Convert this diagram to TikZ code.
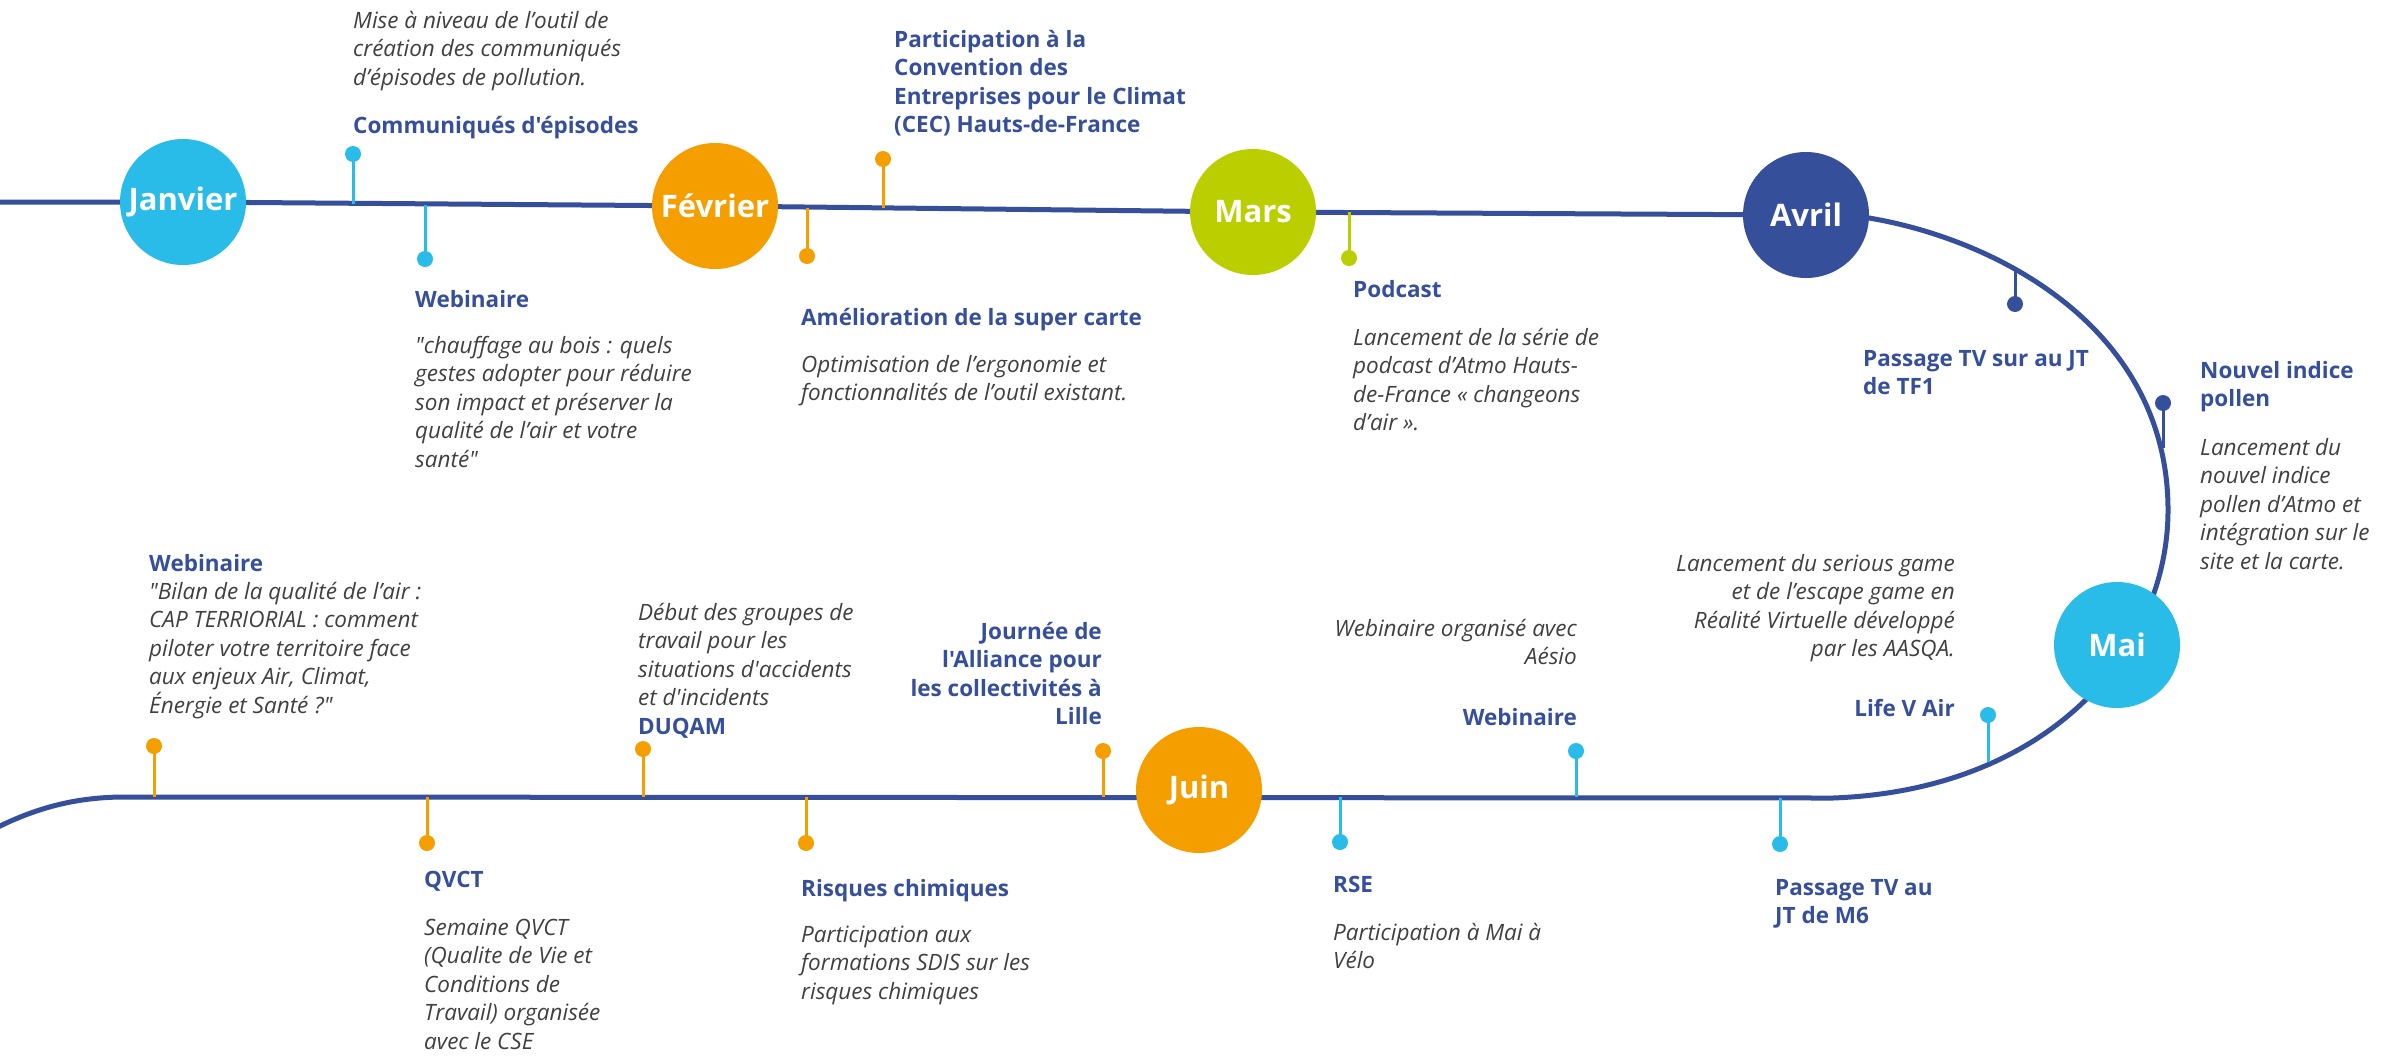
\documentclass[tikz,border=0pt]{standalone}
\usepackage{fontspec}
\setmainfont{Open Sans}[Ligatures=TeXOff]
\usetikzlibrary{backgrounds}
\definecolor{navy}{RGB}{54,79,155}
\definecolor{cyanm}{RGB}{41,188,232}
\definecolor{orangem}{RGB}{244,158,0}
\definecolor{limem}{RGB}{187,207,0}
\definecolor{txtgray}{RGB}{64,64,64}
\newcommand\blkL[1]{\vtop{\baselineskip=28.5pt\lineskiplimit=-100pt\halign{##\hfil\cr#1\crcr}}}
\newcommand\blkR[1]{\vtop{\baselineskip=28.5pt\lineskiplimit=-100pt\halign{\hfil##\cr#1\crcr}}}
\begin{document}
\begin{tikzpicture}[x=1pt,y=-1pt,
 month/.style={circle, minimum size=126pt, inner sep=0pt, text=white, font=\fontsize{31}{31}\selectfont\bfseries},
 dotm/.style={circle, fill=#1, minimum size=16pt, inner sep=0pt},
 stemline/.style={draw=#1, line width=3pt},
 mainline/.style={draw=navy, line width=5pt},
 ttl/.style={inner sep=0pt, anchor=base west, text=navy, font=\fontsize{22.5}{28.5}\selectfont\bfseries},
 ttlR/.style={ttl, anchor=base east},
 desc/.style={inner sep=0pt, anchor=base west, text=txtgray, font=\fontsize{22.5}{28.5}\selectfont\itshape},
 descR/.style={desc, anchor=base east},
]
\useasboundingbox (0,0) rectangle (2381,1055);

% month circles
\node[month, fill=cyanm] (jan) at (183,202) {Janvier};
\node[month, fill=orangem] (feb) at (715,206) {Février};
\node[month, fill=limem] (mar) at (1253,212) {Mars};
\node[month, fill=navy] (avr) at (1806,215) {Avril};
\node[month, fill=cyanm] (mai) at (2117,645) {Mai};
\node[month, fill=orangem] (jui) at (1199,790) {Juin};

% path waypoints
\coordinate (L0) at (0,202);
\coordinate (A1) at (1869,218);
\coordinate (R1) at (2168,510);
\coordinate (BR) at (1833,798);
\coordinate (BL) at (125,797);
\coordinate (BL0) at (-4,828);

% dots
\node[dotm=cyanm] (d1) at (353,154) {};
\node[dotm=cyanm] (d2) at (425,259) {};
\node[dotm=orangem] (d3) at (807,256) {};
\node[dotm=orangem] (d4) at (883,159) {};
\node[dotm=limem] (d5) at (1349,258) {};
\node[dotm=navy] (d6) at (2015,304) {};
\node[dotm=navy] (d7) at (2163,403) {};
\node[dotm=cyanm] (d8) at (1988,715) {};
\node[dotm=cyanm] (d9) at (1780,844) {};
\node[dotm=cyanm] (d10) at (1576,751) {};
\node[dotm=cyanm] (d11) at (1340,842) {};
\node[dotm=orangem] (d12) at (1103,751) {};
\node[dotm=orangem] (d13) at (806,843) {};
\node[dotm=orangem] (d14) at (643,749) {};
\node[dotm=orangem] (d15) at (427,843) {};
\node[dotm=orangem] (d16) at (154,746) {};

% stem feet on the line
\coordinate (s1) at (353,204);
\coordinate (s2) at (425,205);
\coordinate (s3) at (807,208);
\coordinate (s4) at (883,208);
\coordinate (s5) at (1349,212);
\coordinate (s6) at (2015,267);
\coordinate (s7) at (2163,448);
\coordinate (s8) at (1988,762);
\coordinate (s9) at (1780,798);
\coordinate (s10) at (1576,797);
\coordinate (s11) at (1340,797);
\coordinate (s12) at (1103,797);
\coordinate (s13) at (806,797);
\coordinate (s14) at (643,797);
\coordinate (s15) at (427,797);
\coordinate (s16) at (154,797);

\begin{pgfonlayer}{background}
\fill[white] (0,0) rectangle (2381,1055);
\begin{scope}
\clip (0,0) rectangle (2381,1055);
\draw[mainline] (L0) -- (jan.center) -- (feb.center) -- (mar.center) -- (avr.center) -- (A1)
  .. controls (2000,240) and (2168,330) .. (R1)
  .. controls (2168,650) and (2050,790) .. (BR) -- (BL)
  .. controls (80,797) and (40,806) .. (BL0);
\end{scope}
\draw[stemline=cyanm] (d1.center) -- (s1);
\draw[stemline=cyanm] (d2.center) -- (s2);
\draw[stemline=orangem] (d3.center) -- (s3);
\draw[stemline=orangem] (d4.center) -- (s4);
\draw[stemline=limem] (d5.center) -- (s5);
\draw[stemline=navy] (d6.center) -- (s6);
\draw[stemline=navy] (d7.center) -- (s7);
\draw[stemline=cyanm] (d8.center) -- (s8);
\draw[stemline=cyanm] (d9.center) -- (s9);
\draw[stemline=cyanm] (d10.center) -- (s10);
\draw[stemline=cyanm] (d11.center) -- (s11);
\draw[stemline=orangem] (d12.center) -- (s12);
\draw[stemline=orangem] (d13.center) -- (s13);
\draw[stemline=orangem] (d14.center) -- (s14);
\draw[stemline=orangem] (d15.center) -- (s15);
\draw[stemline=orangem] (d16.center) -- (s16);
\end{pgfonlayer}

% texts
\node[desc] (t1) at (353,28) {\blkL{Mise à niveau de l’outil de\cr création des communiqués\cr d’épisodes de pollution.}};
\node[ttl] (t2) at (353,133) {Communiqués d'épisodes};
\node[ttl] (t3) at (415,307) {Webinaire};
\node[desc] (t3d) at (415,353) {\blkL{"chauffage au bois : quels\cr gestes adopter pour réduire\cr son impact et préserver la\cr qualité de l’air et votre\cr santé"}};
\node[ttl] (t4) at (894,47) {\blkL{Participation à la\cr Convention des\cr Entreprises pour le Climat\cr (CEC) Hauts-de-France}};
\node[ttl] (t5) at (801,325) {Amélioration de la super carte};
\node[desc] (t5d) at (801,372) {\blkL{Optimisation de l’ergonomie et\cr fonctionnalités de l’outil existant.}};
\node[ttl] (t6) at (1353,297) {Podcast};
\node[desc] (t6d) at (1353,345) {\blkL{Lancement de la série de\cr podcast d’Atmo Hauts-\cr de-France « changeons\cr d’air ».}};
\node[ttl] (t7) at (1863,366) {\blkL{Passage TV sur au JT\cr de TF1}};
\node[ttl] (t8) at (2200,378) {\blkL{Nouvel indice\cr pollen}};
\node[desc] (t8d) at (2200,455) {\blkL{Lancement du\cr nouvel indice\cr pollen d’Atmo et\cr intégration sur le\cr site et la carte.}};
\node[descR] (t9d) at (1955,571) {\blkR{Lancement du serious game\cr et de l’escape game en\cr Réalité Virtuelle développé\cr par les AASQA.}};
\node[ttlR] (t9) at (1955,716) {Life V Air};
\node[descR] (t10d) at (1577,636) {\blkR{Webinaire organisé avec\cr Aésio}};
\node[ttlR] (t10) at (1577,725) {Webinaire};
\node[ttlR] (t11) at (1102,639) {\blkR{Journée de\cr l'Alliance pour\cr les collectivités à\cr Lille}};
\node[desc] (t12d) at (638,620) {\blkL{Début des groupes de\cr travail pour les\cr situations d'accidents\cr et d'incidents}};
\node[ttl] (t12) at (638,734) {DUQAM};
\node[ttl] (t13) at (149,571) {Webinaire};
\node[desc] (t13d) at (149,599) {\blkL{"Bilan de la qualité de l’air :\cr CAP TERRIORIAL : comment\cr piloter votre territoire face\cr aux enjeux Air, Climat,\cr Énergie et Santé ?"}};
\node[ttl] (t14) at (424,887) {QVCT};
\node[desc] (t14d) at (424,935) {\blkL{Semaine QVCT\cr (Qualite de Vie et\cr Conditions de\cr Travail) organisée\cr avec le CSE}};
\node[ttl] (t15) at (801,896) {Risques chimiques};
\node[desc] (t15d) at (801,942) {\blkL{Participation aux\cr formations SDIS sur les\cr risques chimiques}};
\node[ttl] (t16) at (1333,892) {RSE};
\node[desc] (t16d) at (1333,940) {\blkL{Participation à Mai à\cr Vélo}};
\node[ttl] (t17) at (1775,895) {\blkL{Passage TV au\cr JT de M6}};
\end{tikzpicture}
\end{document}
